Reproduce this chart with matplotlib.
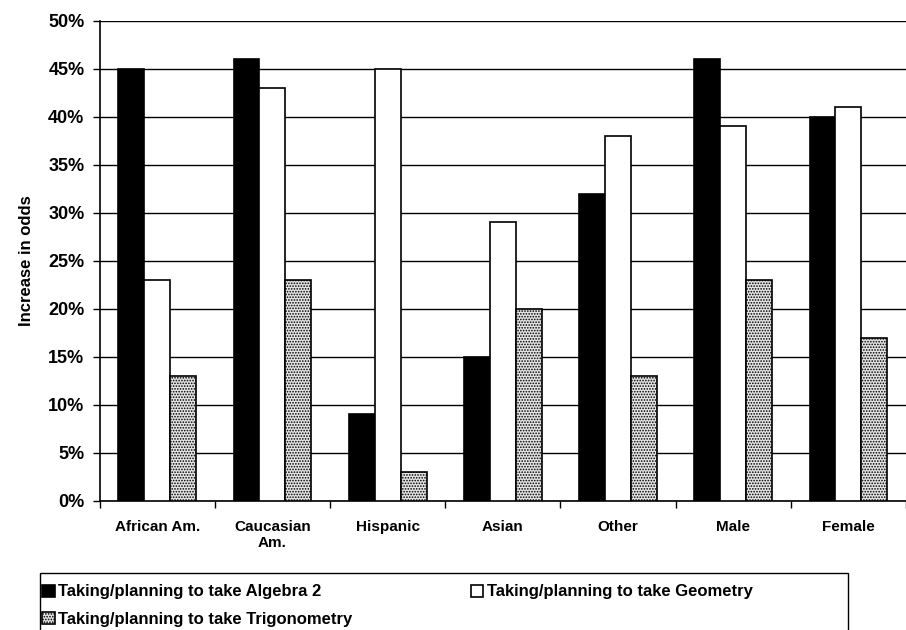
import matplotlib

matplotlib.use("Agg")
import matplotlib.pyplot as plt
import numpy as np
from matplotlib.patches import Rectangle

categories = ["African Am.", "Caucasian\nAm.", "Hispanic", "Asian", "Other", "Male", "Female"]
algebra2 = [45, 46, 9, 15, 32, 46, 40]
geometry = [23, 43, 45, 29, 38, 39, 41]
trigonometry = [13, 23, 3, 20, 13, 23, 17]
y_ticks = [0, 5, 10, 15, 20, 25, 30, 35, 40, 45, 50]

plt.rcParams["font.family"] = ["Liberation Sans", "DejaVu Sans"]
plt.rcParams["font.weight"] = "bold"
plt.rcParams["hatch.color"] = "#7a7a7a"
plt.rcParams["hatch.linewidth"] = 0.8

fig = plt.figure(figsize=(9.06, 6.3), dpi=100)
ax = fig.add_axes([0.110, 0.205, 0.890, 0.762])

x = np.arange(len(categories))
bw = 0.225
b_alg = ax.bar(x - bw, algebra2, bw, color="black", edgecolor="black", linewidth=1.2,
               label="Taking/planning to take Algebra 2", zorder=3)
b_geo = ax.bar(x, geometry, bw, color="white", edgecolor="black", linewidth=1.2,
               label="Taking/planning to take Geometry", zorder=3)
b_trig = ax.bar(x + bw, trigonometry, bw, color="#e4e4e4", edgecolor="black", linewidth=1.2,
                hatch="......", label="Taking/planning to take Trigonometry", zorder=3)

ax.set_xlim(-0.5, len(categories) - 0.5)
ax.set_ylim(0, 50)
ax.set_yticks(y_ticks)
ax.set_yticklabels([f"{t}%" for t in y_ticks], fontsize=13, fontweight="bold")
ax.yaxis.grid(True, color="black", linewidth=1.0, zorder=0)
ax.set_axisbelow(True)
ax.set_xticks(x)
ax.set_xticklabels(categories, fontsize=11, fontweight="bold", va="top", linespacing=1.15)
ax.tick_params(axis="x", length=0, pad=14)
ax.tick_params(axis="y", length=5, width=1, direction="out", pad=6)
ax.set_xticks(np.arange(-0.5, len(categories)), minor=True)
ax.tick_params(axis="x", which="minor", length=5, width=1, direction="out")
ax.set_ylabel("Increase in odds", fontsize=12, fontweight="bold", labelpad=10)

ax.spines["right"].set_visible(False)
ax.spines["top"].set_visible(False)
ax.spines["left"].set_linewidth(1.2)
ax.spines["bottom"].set_linewidth(1.2)

# legend box drawn by hand so it can span wider than its entries
fig.patches.append(Rectangle((0.044, -0.02), 0.892, 0.111, transform=fig.transFigure,
                             fill=False, edgecolor="black", linewidth=1.0))
leg = fig.legend([b_alg, b_trig, b_geo],
                 [b_alg.get_label(), b_trig.get_label(), b_geo.get_label()],
                 loc="upper left", bbox_to_anchor=(0.044, 0.0762),
                 ncol=2, frameon=False,
                 prop={"weight": "bold", "size": 12},
                 handlelength=0.75, handleheight=0.75, handletextpad=0.2,
                 borderpad=0.15, labelspacing=0.75, columnspacing=7.1, borderaxespad=0)

fig.savefig("out.png", dpi=100)
